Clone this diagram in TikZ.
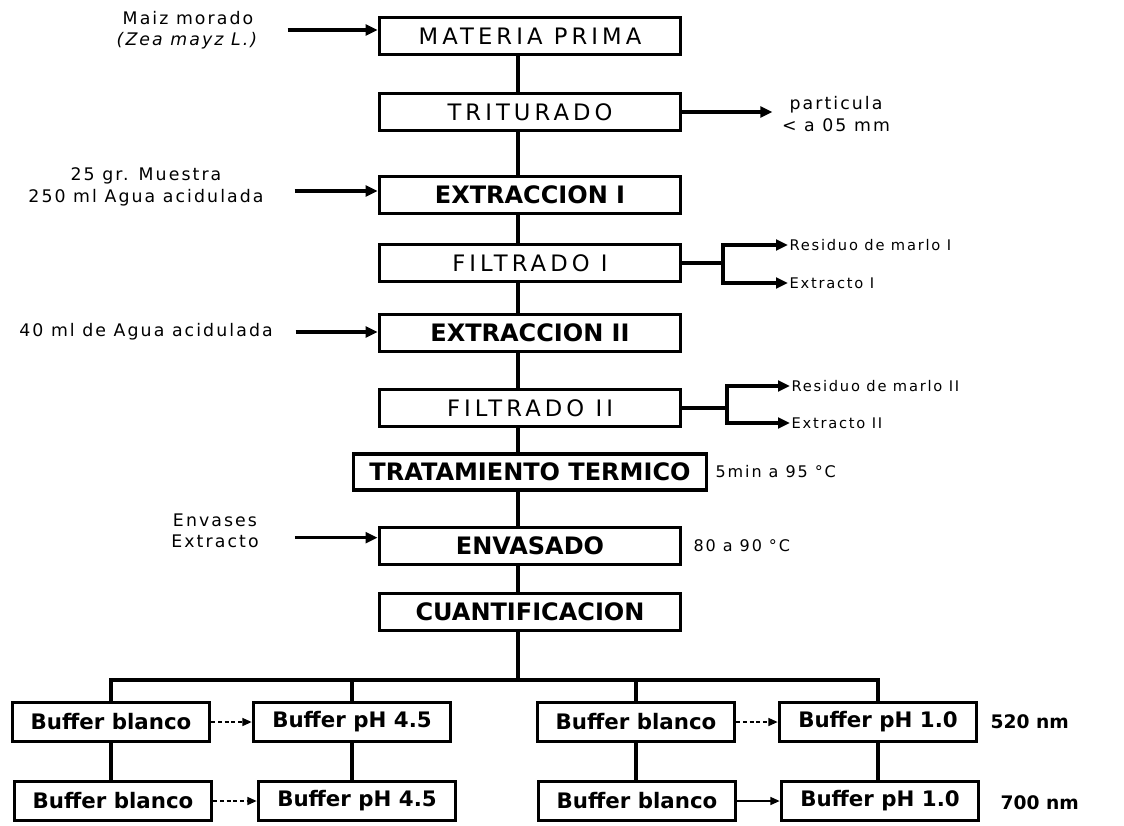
\documentclass[tikz,border=0pt]{standalone}
\usepackage{fontspec}
\setmainfont{DejaVu Sans}
\newfontfamily\scanfont[LetterSpace=12]{DejaVu Sans}
\newfontfamily\boxfont[LetterSpace=18]{DejaVu Sans}
\usetikzlibrary{positioning,calc}
\usetikzlibrary{arrows.meta}
\tikzset{
  proc/.style={draw=black,line width=2.5pt,minimum width=226pt,minimum height=28pt,
    inner sep=2pt,font=\boxfont\fontsize{17}{19}\selectfont},
  procb/.style={proc,font=\bfseries\fontsize{18}{20}\selectfont},
  buf/.style={draw=black,line width=2.5pt,minimum width=148pt,minimum height=29pt,
    inner xsep=1pt,inner ysep=2pt,font=\bfseries\fontsize{16}{18}\selectfont},
  note/.style={font=\scanfont\fontsize{13}{16}\selectfont,align=center,inner sep=1pt},
  small/.style={note,font=\scanfont\fontsize{11}{14}\selectfont},
  flow/.style={draw=black,line width=2.5pt},
  feed/.style={flow,-{Triangle[length=9pt,width=8pt]}},
  side/.style={flow,line width=1.2pt,densely dashed,-{Triangle[length=7pt,width=6pt]}},
}

\begin{document}
\begin{tikzpicture}[x=0.75pt,y=-0.75pt]
\useasboundingbox (0,0) rectangle (1124,825);
% main line
\node[proc]  (mp)   at (530,36)  {MATERIA PRIMA};
\node[proc]  (tri)  at (530,112) {TRITURADO};
\node[procb] (ext1) at (530,195) {EXTRACCION I};
\node[proc]  (fil1) at (530,263) {FILTRADO I};
\node[procb] (ext2) at (530,333) {EXTRACCION II};
\node[proc]  (fil2) at (530,408) {FILTRADO II};
\node[procb,minimum width=265pt,minimum height=27pt] (trat) at (530,472) {TRATAMIENTO TERMICO};
\node[procb] (env)  at (530,546) {ENVASADO};
\node[procb] (cuan) at (530,612) {CUANTIFICACION};
\coordinate (spine) at (518,0);
\foreach \a/\b in {mp/tri,tri/ext1,ext1/fil1,fil1/ext2,ext2/fil2,fil2/trat,trat/env,env/cuan}
  \draw[flow] (\a.south -| spine) -- (\b.north -| spine);

% inputs
\node[note] (inMP) at (188,30) {Maiz morado\\\textit{(Zea mayz L.)}};
\node[note] (inE1) at (146,187) {25 gr. Muestra\\250 ml Agua acidulada};
\node[note] (inE2) at (146,332) {40 ml de Agua acidulada};
\node[note] (inEnv) at (215,531) {Envases\\Extracto};
\draw[feed,shorten <=20pt] (inMP.east) -- (inMP.east -| mp.west);
\draw[feed,shorten <=22pt] ([yshift=-3pt]inE1.east) -- ([yshift=-3pt]inE1.east -| ext1.west);
\draw[feed,shorten <=16pt] (inE2.east) -- (inE2.east -| ext2.west);
\draw[feed,shorten <=26pt] ([yshift=-5pt]inEnv.east) -- ([yshift=-5pt]inEnv.east -| env.west);

% outputs
\node[note] (part) at (836,114) {particula\\< a 05 mm};
\draw[feed,shorten >=6pt] (tri.east) -- (tri.east -| part.west);
\node[small,anchor=west] (res1) at (788,245) {Residuo de marlo I};
\node[small,anchor=west] (out1) at (788,283) {Extracto I};
\coordinate (j1) at (723,263);
\draw[flow] (fil1.east) -- (j1);
\draw[feed] (j1) |- (res1.west);
\draw[feed] (j1) |- (out1.west);
\node[small,anchor=west] (res2) at (790,386) {Residuo de marlo II};
\node[small,anchor=west] (out2) at (790,423) {Extracto II};
\coordinate (j2) at (727,408);
\draw[flow] (fil2.east) -- (j2);
\draw[feed] (j2) |- (res2.west);
\draw[feed] (j2) |- (out2.west);
\node[small,font=\scanfont\fontsize{12}{14}\selectfont,anchor=west] (temp1) at (714,472) {5min a 95 °C};
\node[small,font=\scanfont\fontsize{12}{14}\selectfont,anchor=west] (temp2) at (692,546) {80 a 90 °C};

% quantification
\node[buf] (b1)  at (111,722) {Buffer blanco};
\node[buf] (p1)  at (352,722) {Buffer pH 4.5};
\node[buf] (b2)  at (636,722) {Buffer blanco};
\node[buf] (p2)  at (878,722) {Buffer pH 1.0};
\node[buf] (b3)  at (113,801) {Buffer blanco};
\node[buf] (p3)  at (357,801) {Buffer pH 4.5};
\node[buf] (b4)  at (637,801) {Buffer blanco};
\node[buf] (p4)  at (880,801) {Buffer pH 1.0};
\node[font=\bfseries\fontsize{14}{16}\selectfont,anchor=west] (nm1) at (986,722) {520 nm};
\node[font=\bfseries\fontsize{14}{16}\selectfont,anchor=west] (nm2) at (996,803) {700 nm};
\coordinate (bar) at (518,680);
\draw[flow] (cuan.south -| spine) -- (bar);
\draw[flow] (b1.north) -- (b1.north |- bar) -- (p2.north |- bar) -- (p2.north);
\draw[flow] (p1.north) -- (p1.north |- bar);
\draw[flow] (b2.north) -- (b2.north |- bar);
\foreach \a/\b in {b1/b3,p1/p3,b2/b4,p2/p4}
  \draw[flow] (\a.south) -- (\a.south |- \b.north);
\draw[side] (b1) -- (p1);
\draw[side] (b2) -- (p2);
\draw[side] (b3) -- (p3);
\draw[side,solid] (b4) -- (p4);
\end{tikzpicture}
\end{document}
